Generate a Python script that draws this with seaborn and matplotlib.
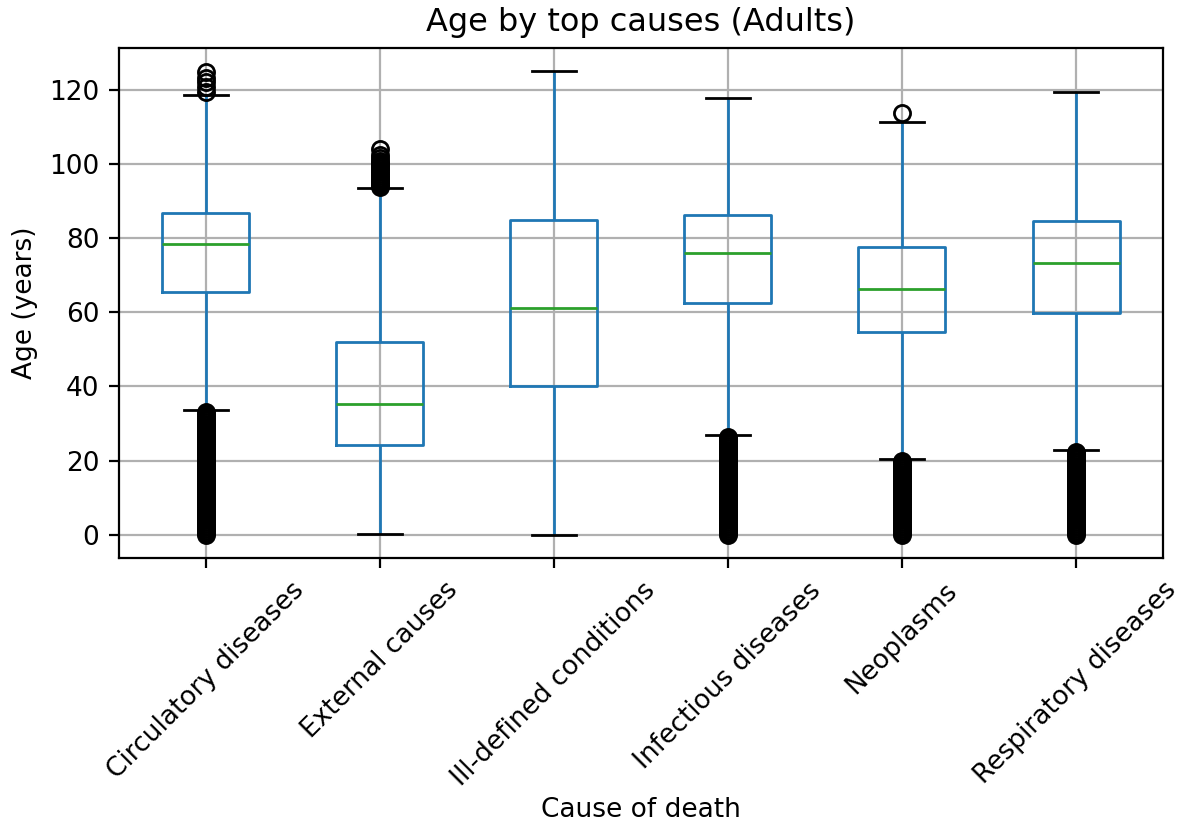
import numpy as np
import pandas as pd
import matplotlib
matplotlib.use("Agg")
import matplotlib.pyplot as plt
import seaborn as sns

causes = ["Circulatory diseases", "External causes", "Ill-defined conditions",
          "Infectious diseases", "Neoplasms", "Respiratory diseases"]
q1 = [65.5, 24.2, 40.0, 62.4, 54.6, 59.7]
median = [78.5, 35.2, 61.2, 75.9, 66.2, 73.3]
q3 = [86.8, 52.0, 85.0, 86.2, 77.6, 84.6]
whisker_low = [33.6, 0.3, 0.0, 27.0, 20.5, 22.9]
whisker_high = [118.6, 93.5, 125.0, 117.8, 111.4, 119.4]
outliers_low = [
    [0, 0.5, 1, 1.5, 2, 2.5, 3, 3.5, 4, 4.5, 5, 5.5, 6, 6.5, 7, 7.5, 8, 8.5,
     9, 9.5, 10, 10.5, 11, 11.5, 12, 12.5, 13, 13.5, 14, 14.5, 15, 15.5, 16,
     16.5, 17, 17.5, 18, 18.5, 19, 19.5, 20, 20.5, 21, 21.5, 22, 22.5, 23,
     23.5, 24, 24.5, 25, 25.5, 26, 26.5, 27, 27.5, 28, 28.5, 29, 29.5, 30,
     30.5, 31, 31.5, 32, 32.5, 33],
    [],
    [],
    [0, 0.5, 1, 1.5, 2, 2.5, 3, 3.5, 4, 4.5, 5, 5.5, 6, 6.5, 7, 7.5, 8, 8.5,
     9, 9.5, 10, 10.5, 11, 11.5, 12, 12.5, 13, 13.5, 14, 14.5, 15, 15.5, 16,
     16.5, 17, 17.5, 18, 18.5, 19, 19.5, 20, 20.5, 21, 21.5, 22, 22.5, 23,
     23.5, 24, 24.5, 25, 25.5, 26, 26.4],
    [0, 0.5, 1, 1.5, 2, 2.5, 3, 3.5, 4, 4.5, 5, 5.5, 6, 6.5, 7, 7.5, 8, 8.5,
     9, 9.5, 10, 10.5, 11, 11.5, 12, 12.5, 13, 13.5, 14, 14.5, 15, 15.5, 16,
     16.5, 17, 17.5, 18, 18.5, 19, 19.5, 20.0],
    [0, 0.5, 1, 1.5, 2, 2.5, 3, 3.5, 4, 4.5, 5, 5.5, 6, 6.5, 7, 7.5, 8, 8.5,
     9, 9.5, 10, 10.5, 11, 11.5, 12, 12.5, 13, 13.5, 14, 14.5, 15, 15.5, 16,
     16.5, 17, 17.5, 18, 18.5, 19, 19.5, 20, 20.5, 21, 21.5, 22, 22.3],
]
outliers_high = [
    [119.5, 120.7, 122.0, 123.2, 124.9],
    [93.8, 94.3, 94.8, 95.3, 95.8, 96.3, 96.8, 97.3, 97.8, 98.3, 98.8, 99.3,
     99.8, 100.3, 100.8, 101.5, 102.5, 103.9],
    [],
    [],
    [113.8],
    [],
]

# Long table whose quartiles/whiskers reproduce the box statistics
R = 200
rows = []
for i, c in enumerate(causes):
    vals = (list(outliers_low[i]) + [whisker_low[i]] + [q1[i]] * R
            + [median[i]] * R + [q3[i]] * R + [whisker_high[i]]
            + list(outliers_high[i]))
    rows += [(c, v) for v in vals]
df = pd.DataFrame(rows, columns=["cause", "age"])

plt.rcParams["font.size"] = 9.5
plt.rcParams["axes.titlesize"] = 11.5

fig = plt.figure(figsize=(5.9, 4.115), dpi=200)
ax = fig.add_axes([0.1008, 0.322, 0.8848, 0.6197])
sns.boxplot(data=df, x="cause", y="age", order=causes, width=0.5, fill=False,
            color="#1f77b4", linewidth=1.0, whis=1.5,
            boxprops=dict(color="#1f77b4"),
            whiskerprops=dict(color="#1f77b4"),
            medianprops=dict(color="#2ca02c"),
            capprops=dict(color="black"),
            flierprops=dict(marker="o", markersize=5.8, markeredgecolor="black",
                            markerfacecolor="none", markeredgewidth=1.0),
            ax=ax)
ax.grid(True, color="#b0b0b0", linewidth=0.8)
ax.set_axisbelow(True)
ax.set_title("Age by top causes (Adults)")
ax.set_xlabel("Cause of death", labelpad=2)
ax.set_ylabel("Age (years)")
plt.setp(ax.get_xticklabels(), rotation=45)
for s in ax.spines.values():
    s.set_visible(True)
fig.savefig("out.png", dpi=200)
